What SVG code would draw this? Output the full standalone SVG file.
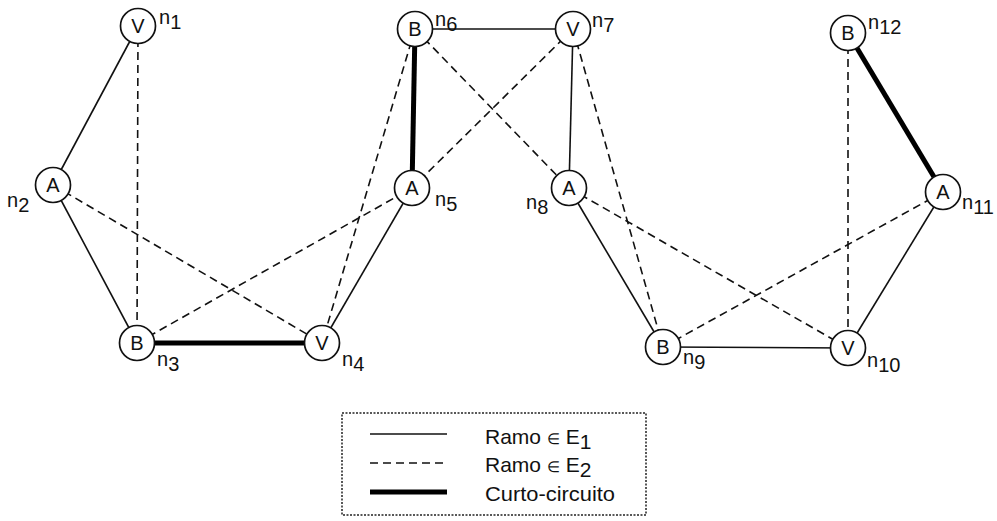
<svg xmlns="http://www.w3.org/2000/svg" width="997" height="521" viewBox="0 0 997 521">
  <style>
    .e1 { stroke: #111; stroke-width: 1.6; fill: none; }
    .e2 { stroke: #111; stroke-width: 1.6; fill: none; stroke-dasharray: 8 5; }
    .sc { stroke: #000; stroke-width: 5; fill: none; }
    .node circle { fill: #fff; stroke: #111; stroke-width: 1.7; }
    .node text.t { font-family: "Liberation Sans", Arial, sans-serif; font-size: 20px; text-anchor: middle; fill: #111; }
    .lbl { font-family: "Liberation Sans", Arial, sans-serif; font-size: 20px; fill: #111; }
    .leg { font-family: "Liberation Sans", Arial, sans-serif; font-size: 21px; fill: #111; }
  </style>
  <rect width="997" height="521" fill="#fff"/>

  <!-- connectors: drawn centre to centre, node discs cover the ends -->
  <g id="connectors">
    <!-- branches in E1 -->
    <line class="e1" x1="138" y1="26" x2="53" y2="185"/>
    <line class="e1" x1="53" y1="185" x2="137" y2="343"/>
    <line class="e1" x1="322" y1="343" x2="412" y2="188"/>
    <line class="e1" x1="415" y1="29" x2="573" y2="29"/>
    <line class="e1" x1="573" y1="29" x2="569" y2="188"/>
    <line class="e1" x1="569" y1="188" x2="663" y2="347"/>
    <line class="e1" x1="663" y1="347" x2="848" y2="348"/>
    <line class="e1" x1="848" y1="348" x2="943" y2="192"/>
    <!-- branches in E2 -->
    <line class="e2" x1="138" y1="26" x2="137" y2="343"/>
    <line class="e2" x1="53" y1="185" x2="322" y2="343"/>
    <line class="e2" x1="137" y1="343" x2="412" y2="188"/>
    <line class="e2" x1="415" y1="29" x2="322" y2="343"/>
    <line class="e2" x1="415" y1="29" x2="569" y2="188"/>
    <line class="e2" x1="573" y1="29" x2="412" y2="188"/>
    <line class="e2" x1="573" y1="29" x2="663" y2="347"/>
    <line class="e2" x1="569" y1="188" x2="848" y2="348"/>
    <line class="e2" x1="663" y1="347" x2="943" y2="192"/>
    <line class="e2" x1="848" y1="33" x2="848" y2="348"/>
    <!-- short circuits -->
    <line class="sc" x1="137" y1="343" x2="322" y2="343"/>
    <line class="sc" x1="415" y1="29" x2="412" y2="188"/>
    <line class="sc" x1="848" y1="33" x2="943" y2="192"/>
  </g>

  <g id="n1" class="node"><circle cx="138" cy="26" r="17.5"/><text class="t" x="138" y="33">V</text><text class="lbl" x="159" y="24">n<tspan dy="5">1</tspan></text></g>
  <g id="n2" class="node"><circle cx="53" cy="185" r="17.5"/><text class="t" x="53" y="192">A</text><text class="lbl" x="7" y="207">n<tspan dy="5">2</tspan></text></g>
  <g id="n3" class="node"><circle cx="137" cy="343" r="17.5"/><text class="t" x="137" y="350">B</text><text class="lbl" x="157" y="366">n<tspan dy="5">3</tspan></text></g>
  <g id="n4" class="node"><circle cx="322" cy="343" r="17.5"/><text class="t" x="322" y="350">V</text><text class="lbl" x="342" y="366">n<tspan dy="5">4</tspan></text></g>
  <g id="n5" class="node"><circle cx="412" cy="188" r="17.5"/><text class="t" x="412" y="195">A</text><text class="lbl" x="435" y="206">n<tspan dy="5">5</tspan></text></g>
  <g id="n6" class="node"><circle cx="415" cy="29" r="17.5"/><text class="t" x="415" y="36">B</text><text class="lbl" x="435" y="26">n<tspan dy="5">6</tspan></text></g>
  <g id="n7" class="node"><circle cx="573" cy="29" r="17.5"/><text class="t" x="573" y="36">V</text><text class="lbl" x="592" y="27">n<tspan dy="5">7</tspan></text></g>
  <g id="n8" class="node"><circle cx="569" cy="188" r="17.5"/><text class="t" x="569" y="195">A</text><text class="lbl" x="526" y="209">n<tspan dy="5">8</tspan></text></g>
  <g id="n9" class="node"><circle cx="663" cy="347" r="17.5"/><text class="t" x="663" y="354">B</text><text class="lbl" x="683" y="364">n<tspan dy="5">9</tspan></text></g>
  <g id="n10" class="node"><circle cx="848" cy="348" r="17.5"/><text class="t" x="848" y="355">V</text><text class="lbl" x="867" y="367">n<tspan dy="5">10</tspan></text></g>
  <g id="n11" class="node"><circle cx="943" cy="192" r="17.5"/><text class="t" x="943" y="199">A</text><text class="lbl" x="962" y="209">n<tspan dy="5">11</tspan></text></g>
  <g id="n12" class="node"><circle cx="848" cy="33" r="17.5"/><text class="t" x="848" y="40">B</text><text class="lbl" x="868" y="29">n<tspan dy="5">12</tspan></text></g>

  <!-- legend -->
  <g id="legend">
    <rect x="342" y="413" width="304" height="102" fill="none" stroke="#222" stroke-width="1.5" stroke-dasharray="2 1.5"/>
    <line class="e1" x1="370" y1="434" x2="447" y2="434"/>
    <line class="e2" x1="370" y1="463" x2="447" y2="463"/>
    <line class="sc" x1="370" y1="492" x2="447" y2="492"/>
    <text class="leg" x="485" y="444">Ramo <tspan font-size="15">∈</tspan> E<tspan dy="5">1</tspan></text>
    <text class="leg" x="485" y="472">Ramo <tspan font-size="15">∈</tspan> E<tspan dy="5">2</tspan></text>
    <text class="leg" x="485" y="501" textLength="130" lengthAdjust="spacingAndGlyphs">Curto-circuito</text>
  </g>
</svg>
